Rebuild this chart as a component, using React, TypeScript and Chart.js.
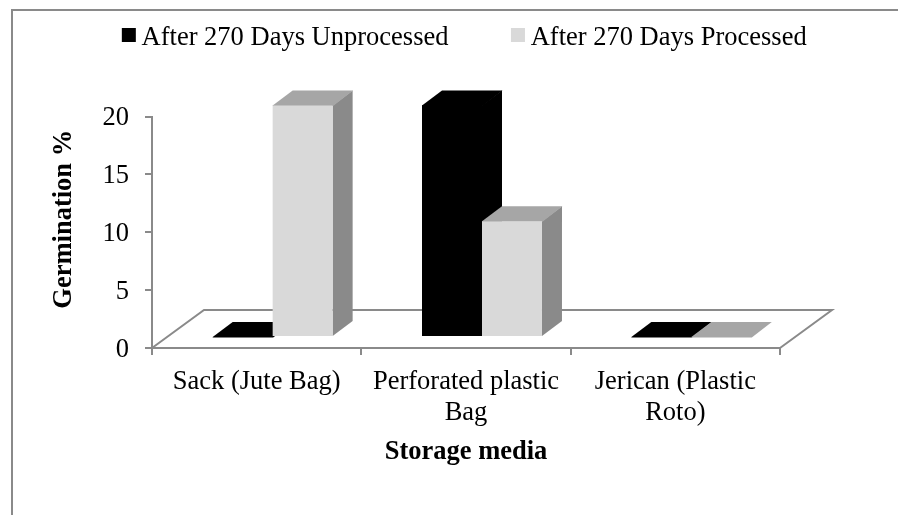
import { useEffect, useRef } from "react";
import { Chart, registerables } from "chart.js";

Chart.register(...registerables);

const categories = [["Sack (Jute Bag)"], ["Perforated plastic", "Bag"], ["Jerican (Plastic", "Roto)"]];
const unprocessed = [0, 20, 0];
const processed = [20, 10, 0];
const seriesNames = ["After 270 Days Unprocessed", "After 270 Days Processed"];
const yTitle = "Germination %";
const xTitle = "Storage media";

const FONT = "'Liberation Serif', 'Times New Roman', serif";
const LINE = "#8a8a8a";

const shades = [
  { top: "#000000", side: "#000000" },
  { top: "#a6a6a6", side: "#8a8a8a" },
];

const threeD = {
  id: "threeD",
  beforeDraw(chart: any) {
    const { ctx, width, height } = chart;
    ctx.save();
    ctx.strokeStyle = LINE;
    ctx.lineWidth = 2;
    ctx.beginPath();
    ctx.moveTo(12, height);
    ctx.lineTo(12, 10);
    ctx.lineTo(width, 10);
    ctx.stroke();
    ctx.restore();
  },
  beforeDatasetsDraw(chart: any) {
    const { ctx, chartArea } = chart;
    const y0 = chart.scales.y.getPixelForValue(0);
    ctx.save();
    ctx.strokeStyle = LINE;
    ctx.lineWidth = 2;
    ctx.beginPath();
    ctx.moveTo(chartArea.left, y0);
    ctx.lineTo(chartArea.left + 52, y0 - 38);
    ctx.lineTo(chartArea.right + 52, y0 - 38);
    ctx.lineTo(chartArea.right, y0);
    ctx.stroke();
    ctx.restore();

    ctx.save();
    ctx.translate(16, -11);
    const dx = 20;
    const dy = -15;
    chart.data.datasets.forEach((_: any, i: number) => {
      chart.getDatasetMeta(i).data.forEach((bar: any) => {
        const l = bar.x - bar.width / 2;
        const r = bar.x + bar.width / 2;
        const t = bar.y;
        const b = bar.base;
        ctx.fillStyle = shades[i].side;
        ctx.beginPath();
        ctx.moveTo(r, t);
        ctx.lineTo(r + dx, t + dy);
        ctx.lineTo(r + dx, b + dy);
        ctx.lineTo(r, b);
        ctx.closePath();
        ctx.fill();
        if (i === 0 && t !== b) {
          ctx.fillRect(l, t, r - l, b - t);
        }
        ctx.fillStyle = shades[i].top;
        ctx.beginPath();
        ctx.moveTo(l, t);
        ctx.lineTo(l + dx, t + dy);
        ctx.lineTo(r + dx + 0.5, t + dy);
        ctx.lineTo(r + 0.5, t + 0.5);
        ctx.lineTo(l, t + 0.5);
        ctx.closePath();
        ctx.fill();
      });
    });
  },
  afterDatasetsDraw(chart: any) {
    chart.ctx.restore();
  },
  afterDraw(chart: any) {
    const { ctx, legend } = chart;
    ctx.save();
    legend.legendHitBoxes.forEach((box: any, i: number) => {
      ctx.fillStyle = chart.data.datasets[i].backgroundColor;
      ctx.clearRect(box.left, box.top + 3, 14, 22);
      ctx.fillRect(box.left + 0.5, box.top + 3, 14, 14);
    });
    ctx.restore();
  },
};

export default function App() {
  const ref = useRef<HTMLCanvasElement>(null);
  useEffect(() => {
    const chart = new Chart(ref.current as HTMLCanvasElement, {
      type: "bar",
      data: {
        labels: categories,
        datasets: [
          { label: seriesNames[0], data: unprocessed, backgroundColor: "#000000", clip: false, xAxisID: "x", yAxisID: "y" },
          { label: seriesNames[1], data: processed, backgroundColor: "#d9d9d9", clip: false, xAxisID: "x", yAxisID: "y" },
        ],
      },
      plugins: [threeD],
      options: {
        responsive: false,
        animation: false,
        layout: { padding: { left: 30, right: 0, top: -37, bottom: 43 } },
        datasets: { bar: { categoryPercentage: 0.573, barPercentage: 1 } },
        plugins: {
          title: { display: false },
          tooltip: { enabled: false },
          legend: {
            position: "top",
            align: "center",
            labels: {
              boxWidth: 7,
              boxHeight: 14,
              padding: 62,
              color: "#000000",
              font: { family: FONT, size: 26.5 },
            },
          },
        },
        scales: {
          x: {
            grid: { drawOnChartArea: false, tickLength: 7, color: LINE, lineWidth: 2 },
            border: { color: LINE, width: 2 },
            ticks: { color: "#000000", padding: 12, maxRotation: 0, font: { family: FONT, size: 26.5, lineHeight: 1.17 } },
            title: { display: true, text: xTitle, color: "#000000", font: { family: FONT, size: 26.5, weight: "bold" } },
            afterFit(s: any) {
              s.height = 124;
            },
          },
          x2: {
            position: "top",
            display: true,
            grid: { display: false },
            border: { display: false },
            ticks: { display: false },
            afterFit(s: any) {
              s.height = 55;
            },
          },
          y: {
            min: 0,
            max: 20,
            grid: { drawOnChartArea: false, tickLength: 7, color: LINE, lineWidth: 2 },
            border: { color: LINE, width: 2 },
            ticks: { stepSize: 5, color: "#000000", padding: 16, labelOffset: 2, font: { family: FONT, size: 26.5 } },
            title: { display: true, text: yTitle, color: "#000000", padding: { top: 18, bottom: 0 }, font: { family: FONT, size: 26.5, weight: "bold" } },
            afterFit(s: any) {
              s.width = 122;
              if (!s.titleShifted) {
                s.titleShifted = true;
                const drawTitle = s.drawTitle;
                s.drawTitle = function () {
                  s.ctx.save();
                  s.ctx.translate(0, -13);
                  drawTitle.call(s);
                  s.ctx.restore();
                };
              }
            },
          },
          y2: {
            position: "right",
            display: true,
            grid: { display: false },
            border: { display: false },
            ticks: { display: false },
            afterFit(s: any) {
              s.width = 118;
            },
          },
        },
      } as any,
    });
    return () => chart.destroy();
  }, []);
  return (
    <div style={{ position: "absolute", left: 0, top: 0, width: 898, height: 515 }}>
      <canvas ref={ref} width={898} height={515} style={{ display: "block" }} />
    </div>
  );
}
